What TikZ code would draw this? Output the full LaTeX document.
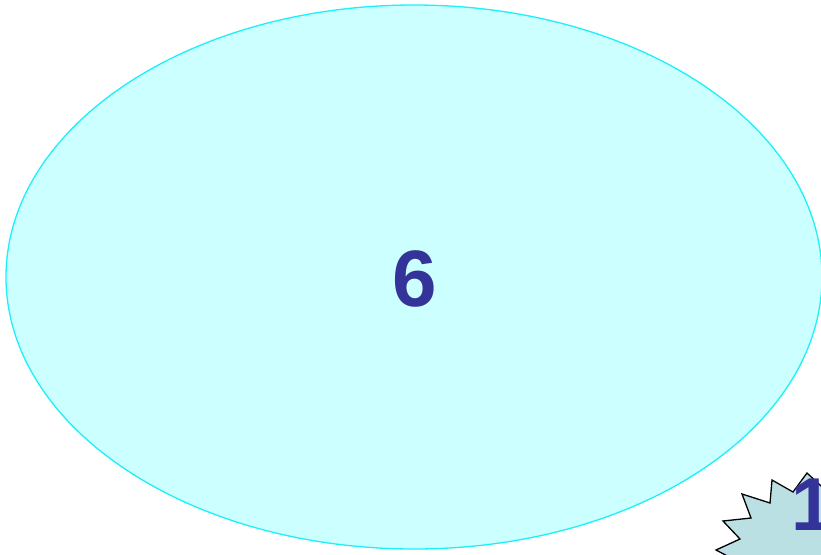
\documentclass[tikz,border=0pt]{standalone}
\usepackage{fontspec}
\setmainfont{Liberation Sans}
\definecolor{ellfill}{HTML}{CCFFFF}
\definecolor{ellline}{HTML}{1CF0F8}
\definecolor{numcol}{HTML}{333399}
\definecolor{starfill}{HTML}{BBE0E3}
\tikzset{
  ellshape/.style={draw=ellline, fill=ellfill, line width=1.3pt},
  starshape/.style={draw=black, fill=starfill, line width=1.3pt, line join=miter},
  numtext/.style={text=numcol, font=\bfseries\fontsize{80}{80}\selectfont, inner sep=0pt}
}
\begin{document}
\begin{tikzpicture}[x=1pt,y=-1pt]
\useasboundingbox (0,0) rectangle (821,554);
\draw[ellshape] (414,277) ellipse [x radius=408, y radius=272];
\node[numtext] (six) at (415,279) {6};
\draw[starshape] (850,500) -- (821,486) -- (807,473) -- (793,492) -- (772,480) -- (770,503) -- (742,494) -- (751,518) -- (723,521) -- (740,539) -- (716,550) -- (735,560) -- (740,600) -- (850,600) -- cycle;
\node[numtext, font=\bfseries\fontsize{75}{75}\selectfont, anchor=west] (one) at (791,505) {1};
\end{tikzpicture}
\end{document}
